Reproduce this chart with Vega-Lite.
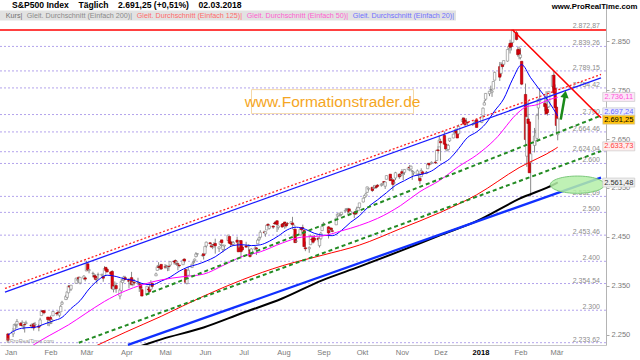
{
"$schema": "https://vega.github.io/schema/vega-lite/v6.json",
"width": 606, "height": 337,
"autosize": {"type": "none"},
"padding": {"left": 0, "top": 8, "right": 34, "bottom": 15},
"background": "white",
"config": {"view": {"stroke": null}, "font": "Liberation Sans"},
"title": {"text": "S&P500 Index\u00a0\u00a0\u00a0\u00a0Täglich\u00a0\u00a0\u00a0\u00a02.691,25 (+0,51%)\u00a0\u00a0\u00a0\u00a002.03.2018", "anchor": "start", "frame": "group", "fontSize": 8.6, "fontWeight": "bold", "font": "Liberation Sans", "color": "#000000", "dx": 12, "offset": -7.5},
"resolve": {"scale": {"color": "independent"}},
"datasets": {
"candles": [
{"d":"2016-12-30","o":2251.6,"h":2253.6,"l":2233.6,"c":2238.8},
{"d":"2017-01-03","o":2251.6,"h":2263.9,"l":2245.1,"c":2257.8},
{"d":"2017-01-04","o":2261.6,"h":2272.8,"l":2261.6,"c":2270.8},
{"d":"2017-01-05","o":2268.2,"h":2271.5,"l":2260.5,"c":2269.0},
{"d":"2017-01-06","o":2271.1,"h":2282.1,"l":2264.1,"c":2277.0},
{"d":"2017-01-09","o":2273.6,"h":2275.5,"l":2268.8,"c":2268.9},
{"d":"2017-01-10","o":2269.0,"h":2279.3,"l":2265.3,"c":2268.9},
{"d":"2017-01-11","o":2268.6,"h":2275.3,"l":2260.8,"c":2275.3},
{"d":"2017-01-12","o":2271.1,"h":2271.8,"l":2254.3,"c":2270.4},
{"d":"2017-01-13","o":2272.7,"h":2278.7,"l":2271.5,"c":2274.6},
{"d":"2017-01-17","o":2269.1,"h":2272.1,"l":2262.8,"c":2267.9},
{"d":"2017-01-18","o":2269.1,"h":2272.0,"l":2263.4,"c":2271.9},
{"d":"2017-01-19","o":2271.9,"h":2274.3,"l":2258.4,"c":2263.7},
{"d":"2017-01-20","o":2269.9,"h":2276.1,"l":2265.0,"c":2271.3},
{"d":"2017-01-23","o":2267.8,"h":2271.8,"l":2257.0,"c":2265.2},
{"d":"2017-01-24","o":2267.9,"h":2284.6,"l":2266.7,"c":2280.1},
{"d":"2017-01-25","o":2288.9,"h":2299.6,"l":2288.9,"c":2298.4},
{"d":"2017-01-26","o":2298.6,"h":2300.4,"l":2294.1,"c":2296.7},
{"d":"2017-01-27","o":2299.0,"h":2299.0,"l":2291.6,"c":2294.7},
{"d":"2017-01-30","o":2286.0,"h":2286.0,"l":2268.0,"c":2280.9},
{"d":"2017-01-31","o":2274.0,"h":2279.1,"l":2267.2,"c":2278.9},
{"d":"2017-02-01","o":2285.6,"h":2289.1,"l":2271.6,"c":2279.6},
{"d":"2017-02-02","o":2276.7,"h":2283.0,"l":2271.7,"c":2280.9},
{"d":"2017-02-03","o":2288.5,"h":2298.3,"l":2288.5,"c":2297.4},
{"d":"2017-02-06","o":2294.3,"h":2296.2,"l":2288.6,"c":2292.6},
{"d":"2017-02-07","o":2295.9,"h":2299.4,"l":2290.2,"c":2293.1},
{"d":"2017-02-08","o":2289.6,"h":2295.9,"l":2285.4,"c":2294.7},
{"d":"2017-02-09","o":2296.7,"h":2311.1,"l":2296.6,"c":2307.9},
{"d":"2017-02-10","o":2312.3,"h":2319.2,"l":2311.1,"c":2316.1},
{"d":"2017-02-13","o":2321.7,"h":2331.6,"l":2321.4,"c":2328.3},
{"d":"2017-02-14","o":2326.1,"h":2337.6,"l":2322.2,"c":2337.6},
{"d":"2017-02-15","o":2335.6,"h":2351.3,"l":2334.8,"c":2349.3},
{"d":"2017-02-16","o":2349.6,"h":2351.3,"l":2338.9,"c":2347.2},
{"d":"2017-02-17","o":2343.0,"h":2351.2,"l":2339.6,"c":2351.2},
{"d":"2017-02-21","o":2354.9,"h":2366.7,"l":2354.9,"c":2365.4},
{"d":"2017-02-22","o":2361.1,"h":2365.1,"l":2358.3,"c":2362.8},
{"d":"2017-02-23","o":2367.5,"h":2368.3,"l":2355.1,"c":2363.8},
{"d":"2017-02-24","o":2355.7,"h":2367.3,"l":2352.9,"c":2367.3},
{"d":"2017-02-27","o":2365.2,"h":2371.5,"l":2361.9,"c":2369.8},
{"d":"2017-02-28","o":2366.1,"h":2367.8,"l":2358.9,"c":2363.6},
{"d":"2017-03-01","o":2380.1,"h":2401.0,"l":2380.1,"c":2396.0},
{"d":"2017-03-02","o":2394.8,"h":2394.8,"l":2380.2,"c":2381.9},
{"d":"2017-03-03","o":2380.9,"h":2383.9,"l":2375.4,"c":2383.1},
{"d":"2017-03-06","o":2375.2,"h":2378.8,"l":2367.0,"c":2375.3},
{"d":"2017-03-07","o":2370.7,"h":2375.1,"l":2365.5,"c":2368.4},
{"d":"2017-03-08","o":2369.8,"h":2373.1,"l":2361.0,"c":2363.0},
{"d":"2017-03-09","o":2363.5,"h":2369.1,"l":2354.5,"c":2364.9},
{"d":"2017-03-10","o":2372.5,"h":2376.9,"l":2364.0,"c":2372.6},
{"d":"2017-03-13","o":2371.6,"h":2374.4,"l":2368.5,"c":2373.5},
{"d":"2017-03-14","o":2368.6,"h":2368.6,"l":2358.2,"c":2365.5},
{"d":"2017-03-15","o":2370.3,"h":2390.0,"l":2368.9,"c":2385.3},
{"d":"2017-03-16","o":2387.7,"h":2388.1,"l":2377.2,"c":2381.4},
{"d":"2017-03-17","o":2383.7,"h":2385.7,"l":2377.6,"c":2378.3},
{"d":"2017-03-20","o":2378.2,"h":2379.0,"l":2369.7,"c":2373.5},
{"d":"2017-03-21","o":2379.3,"h":2381.9,"l":2341.9,"c":2344.0},
{"d":"2017-03-22","o":2343.0,"h":2351.8,"l":2336.5,"c":2348.5},
{"d":"2017-03-23","o":2345.1,"h":2358.9,"l":2342.1,"c":2346.0},
{"d":"2017-03-24","o":2350.4,"h":2356.2,"l":2335.7,"c":2344.0},
{"d":"2017-03-27","o":2329.1,"h":2344.9,"l":2322.3,"c":2341.6},
{"d":"2017-03-28","o":2339.8,"h":2363.8,"l":2337.6,"c":2358.6},
{"d":"2017-03-29","o":2356.5,"h":2363.4,"l":2353.0,"c":2361.1},
{"d":"2017-03-30","o":2361.3,"h":2370.4,"l":2358.6,"c":2368.1},
{"d":"2017-03-31","o":2366.6,"h":2370.3,"l":2362.6,"c":2362.7},
{"d":"2017-04-03","o":2362.3,"h":2365.9,"l":2344.7,"c":2358.8},
{"d":"2017-04-04","o":2354.8,"h":2360.5,"l":2350.7,"c":2360.2},
{"d":"2017-04-05","o":2366.6,"h":2378.4,"l":2350.5,"c":2353.0},
{"d":"2017-04-06","o":2353.8,"h":2364.2,"l":2348.9,"c":2357.5},
{"d":"2017-04-07","o":2356.6,"h":2363.8,"l":2350.7,"c":2355.5},
{"d":"2017-04-10","o":2357.2,"h":2366.4,"l":2351.5,"c":2357.2},
{"d":"2017-04-11","o":2353.9,"h":2355.2,"l":2337.3,"c":2353.8},
{"d":"2017-04-12","o":2352.2,"h":2352.7,"l":2341.2,"c":2344.9},
{"d":"2017-04-13","o":2342.0,"h":2348.3,"l":2328.9,"c":2329.0},
{"d":"2017-04-17","o":2332.6,"h":2349.1,"l":2332.5,"c":2349.0},
{"d":"2017-04-18","o":2342.5,"h":2348.4,"l":2334.5,"c":2342.2},
{"d":"2017-04-19","o":2346.8,"h":2352.6,"l":2335.1,"c":2338.2},
{"d":"2017-04-20","o":2342.7,"h":2361.4,"l":2340.9,"c":2355.8},
{"d":"2017-04-21","o":2354.7,"h":2356.2,"l":2344.5,"c":2348.7},
{"d":"2017-04-24","o":2370.3,"h":2376.9,"l":2370.3,"c":2374.2},
{"d":"2017-04-25","o":2381.5,"h":2392.5,"l":2381.2,"c":2388.6},
{"d":"2017-04-26","o":2388.4,"h":2398.2,"l":2386.8,"c":2387.5},
{"d":"2017-04-27","o":2389.7,"h":2392.1,"l":2382.7,"c":2388.8},
{"d":"2017-04-28","o":2393.7,"h":2393.7,"l":2382.4,"c":2384.2},
{"d":"2017-05-01","o":2388.5,"h":2394.5,"l":2384.8,"c":2388.3},
{"d":"2017-05-02","o":2391.1,"h":2392.9,"l":2385.8,"c":2391.2},
{"d":"2017-05-03","o":2386.5,"h":2389.8,"l":2379.8,"c":2388.1},
{"d":"2017-05-04","o":2389.8,"h":2391.4,"l":2380.4,"c":2389.5},
{"d":"2017-05-05","o":2392.4,"h":2399.3,"l":2389.4,"c":2399.3},
{"d":"2017-05-08","o":2399.9,"h":2401.4,"l":2393.6,"c":2399.4},
{"d":"2017-05-09","o":2401.6,"h":2403.9,"l":2392.4,"c":2396.9},
{"d":"2017-05-10","o":2396.8,"h":2399.7,"l":2390.9,"c":2399.6},
{"d":"2017-05-11","o":2394.8,"h":2395.7,"l":2381.7,"c":2394.4},
{"d":"2017-05-12","o":2392.4,"h":2392.4,"l":2387.2,"c":2390.9},
{"d":"2017-05-15","o":2393.0,"h":2404.1,"l":2393.0,"c":2402.3},
{"d":"2017-05-16","o":2404.6,"h":2405.8,"l":2396.1,"c":2400.7},
{"d":"2017-05-17","o":2383.0,"h":2384.9,"l":2356.2,"c":2357.0},
{"d":"2017-05-18","o":2354.7,"h":2375.7,"l":2352.7,"c":2365.7},
{"d":"2017-05-19","o":2371.4,"h":2389.1,"l":2370.4,"c":2381.7},
{"d":"2017-05-22","o":2387.2,"h":2395.5,"l":2386.9,"c":2394.0},
{"d":"2017-05-23","o":2397.0,"h":2400.9,"l":2393.9,"c":2398.4},
{"d":"2017-05-24","o":2401.4,"h":2405.6,"l":2397.9,"c":2404.4},
{"d":"2017-05-25","o":2409.5,"h":2418.7,"l":2408.0,"c":2415.1},
{"d":"2017-05-26","o":2414.5,"h":2416.0,"l":2410.0,"c":2415.8},
{"d":"2017-05-30","o":2411.7,"h":2415.3,"l":2409.4,"c":2412.9},
{"d":"2017-05-31","o":2415.6,"h":2415.8,"l":2403.6,"c":2411.8},
{"d":"2017-06-01","o":2415.6,"h":2430.1,"l":2413.5,"c":2430.1},
{"d":"2017-06-02","o":2431.3,"h":2440.2,"l":2427.7,"c":2439.1},
{"d":"2017-06-05","o":2437.8,"h":2439.5,"l":2434.3,"c":2436.1},
{"d":"2017-06-06","o":2431.9,"h":2436.2,"l":2428.1,"c":2429.3},
{"d":"2017-06-07","o":2432.0,"h":2435.3,"l":2424.8,"c":2433.1},
{"d":"2017-06-08","o":2434.3,"h":2439.3,"l":2427.4,"c":2433.8},
{"d":"2017-06-09","o":2436.4,"h":2446.2,"l":2415.7,"c":2431.8},
{"d":"2017-06-12","o":2425.9,"h":2430.4,"l":2419.0,"c":2429.4},
{"d":"2017-06-13","o":2434.2,"h":2441.5,"l":2431.3,"c":2440.4},
{"d":"2017-06-14","o":2443.8,"h":2443.8,"l":2428.3,"c":2437.9},
{"d":"2017-06-15","o":2424.1,"h":2433.9,"l":2418.5,"c":2432.5},
{"d":"2017-06-16","o":2431.2,"h":2433.2,"l":2422.9,"c":2433.2},
{"d":"2017-06-19","o":2442.5,"h":2453.8,"l":2441.8,"c":2453.5},
{"d":"2017-06-20","o":2450.7,"h":2450.7,"l":2436.6,"c":2437.0},
{"d":"2017-06-21","o":2439.3,"h":2442.2,"l":2430.7,"c":2435.6},
{"d":"2017-06-22","o":2437.4,"h":2441.6,"l":2433.3,"c":2434.5},
{"d":"2017-06-23","o":2434.7,"h":2441.4,"l":2431.1,"c":2438.3},
{"d":"2017-06-26","o":2443.3,"h":2450.4,"l":2437.0,"c":2439.1},
{"d":"2017-06-27","o":2436.3,"h":2441.0,"l":2419.4,"c":2419.4},
{"d":"2017-06-28","o":2428.7,"h":2443.1,"l":2428.7,"c":2440.7},
{"d":"2017-06-29","o":2442.4,"h":2442.7,"l":2405.7,"c":2419.7},
{"d":"2017-06-30","o":2429.2,"h":2432.7,"l":2421.6,"c":2423.4},
{"d":"2017-07-03","o":2431.4,"h":2439.9,"l":2428.2,"c":2429.0},
{"d":"2017-07-05","o":2430.8,"h":2434.9,"l":2422.1,"c":2432.5},
{"d":"2017-07-06","o":2423.4,"h":2424.3,"l":2407.7,"c":2409.8},
{"d":"2017-07-07","o":2413.5,"h":2426.9,"l":2413.5,"c":2425.2},
{"d":"2017-07-10","o":2424.5,"h":2432.0,"l":2422.3,"c":2427.4},
{"d":"2017-07-11","o":2427.4,"h":2429.3,"l":2412.8,"c":2425.5},
{"d":"2017-07-12","o":2435.8,"h":2445.8,"l":2435.6,"c":2443.3},
{"d":"2017-07-13","o":2444.0,"h":2449.3,"l":2441.7,"c":2447.8},
{"d":"2017-07-14","o":2449.2,"h":2463.5,"l":2446.7,"c":2459.3},
{"d":"2017-07-17","o":2459.5,"h":2462.8,"l":2457.2,"c":2459.1},
{"d":"2017-07-18","o":2455.9,"h":2460.9,"l":2450.3,"c":2460.6},
{"d":"2017-07-19","o":2463.9,"h":2473.8,"l":2463.9,"c":2473.8},
{"d":"2017-07-20","o":2475.6,"h":2477.6,"l":2468.4,"c":2473.5},
{"d":"2017-07-21","o":2467.4,"h":2472.5,"l":2465.1,"c":2472.5},
{"d":"2017-07-24","o":2472.0,"h":2473.1,"l":2466.3,"c":2469.9},
{"d":"2017-07-25","o":2477.9,"h":2481.2,"l":2474.9,"c":2477.1},
{"d":"2017-07-26","o":2479.9,"h":2481.7,"l":2474.9,"c":2477.8},
{"d":"2017-07-27","o":2482.8,"h":2484.0,"l":2459.9,"c":2475.4},
{"d":"2017-07-28","o":2469.1,"h":2473.5,"l":2464.7,"c":2472.1},
{"d":"2017-07-31","o":2475.9,"h":2477.9,"l":2468.5,"c":2470.3},
{"d":"2017-08-01","o":2477.1,"h":2478.5,"l":2471.1,"c":2476.4},
{"d":"2017-08-02","o":2480.4,"h":2480.4,"l":2466.5,"c":2477.6},
{"d":"2017-08-03","o":2476.0,"h":2476.0,"l":2468.9,"c":2472.2},
{"d":"2017-08-04","o":2476.9,"h":2480.4,"l":2472.1,"c":2476.8},
{"d":"2017-08-07","o":2477.1,"h":2480.9,"l":2475.9,"c":2480.9},
{"d":"2017-08-08","o":2478.4,"h":2490.9,"l":2470.3,"c":2474.9},
{"d":"2017-08-09","o":2465.4,"h":2474.9,"l":2463.9,"c":2474.0},
{"d":"2017-08-10","o":2465.4,"h":2465.4,"l":2437.8,"c":2438.2},
{"d":"2017-08-11","o":2441.0,"h":2448.1,"l":2437.9,"c":2441.3},
{"d":"2017-08-14","o":2454.0,"h":2467.2,"l":2454.0,"c":2465.8},
{"d":"2017-08-15","o":2468.7,"h":2468.7,"l":2461.4,"c":2464.6},
{"d":"2017-08-16","o":2468.6,"h":2474.9,"l":2463.9,"c":2468.1},
{"d":"2017-08-17","o":2462.9,"h":2465.0,"l":2430.0,"c":2430.0},
{"d":"2017-08-18","o":2427.6,"h":2440.3,"l":2420.7,"c":2425.6},
{"d":"2017-08-21","o":2425.5,"h":2430.6,"l":2417.4,"c":2428.4},
{"d":"2017-08-22","o":2433.8,"h":2454.8,"l":2433.7,"c":2452.5},
{"d":"2017-08-23","o":2444.9,"h":2448.9,"l":2441.4,"c":2444.0},
{"d":"2017-08-24","o":2447.9,"h":2450.4,"l":2436.2,"c":2439.0},
{"d":"2017-08-25","o":2447.2,"h":2453.7,"l":2442.2,"c":2443.1},
{"d":"2017-08-28","o":2447.4,"h":2449.1,"l":2439.0,"c":2444.2},
{"d":"2017-08-29","o":2431.9,"h":2449.2,"l":2428.2,"c":2446.3},
{"d":"2017-08-30","o":2446.1,"h":2460.3,"l":2443.8,"c":2457.6},
{"d":"2017-08-31","o":2462.7,"h":2475.0,"l":2462.7,"c":2471.7},
{"d":"2017-09-01","o":2474.4,"h":2480.4,"l":2473.9,"c":2476.6},
{"d":"2017-09-05","o":2470.4,"h":2471.9,"l":2446.6,"c":2457.9},
{"d":"2017-09-06","o":2463.8,"h":2469.6,"l":2459.2,"c":2465.5},
{"d":"2017-09-07","o":2468.1,"h":2468.6,"l":2460.3,"c":2465.1},
{"d":"2017-09-08","o":2462.3,"h":2467.1,"l":2459.4,"c":2461.4},
{"d":"2017-09-11","o":2474.5,"h":2488.9,"l":2474.5,"c":2488.1},
{"d":"2017-09-12","o":2491.9,"h":2496.8,"l":2488.0,"c":2496.5},
{"d":"2017-09-13","o":2493.9,"h":2498.4,"l":2492.1,"c":2498.4},
{"d":"2017-09-14","o":2494.6,"h":2498.4,"l":2491.4,"c":2495.6},
{"d":"2017-09-15","o":2495.7,"h":2500.2,"l":2493.2,"c":2500.2},
{"d":"2017-09-18","o":2502.5,"h":2508.3,"l":2499.9,"c":2503.9},
{"d":"2017-09-19","o":2506.3,"h":2507.8,"l":2503.2,"c":2506.7},
{"d":"2017-09-20","o":2506.8,"h":2508.9,"l":2496.7,"c":2508.2},
{"d":"2017-09-21","o":2507.2,"h":2507.2,"l":2499.0,"c":2500.6},
{"d":"2017-09-22","o":2497.3,"h":2503.5,"l":2496.5,"c":2502.2},
{"d":"2017-09-25","o":2499.4,"h":2502.5,"l":2488.0,"c":2496.7},
{"d":"2017-09-26","o":2501.0,"h":2503.5,"l":2495.1,"c":2496.8},
{"d":"2017-09-27","o":2503.3,"h":2511.8,"l":2495.9,"c":2507.0},
{"d":"2017-09-28","o":2503.4,"h":2510.8,"l":2502.9,"c":2510.1},
{"d":"2017-09-29","o":2509.9,"h":2519.4,"l":2507.8,"c":2519.4},
{"d":"2017-10-02","o":2521.2,"h":2529.2,"l":2520.4,"c":2529.1},
{"d":"2017-10-03","o":2530.3,"h":2535.1,"l":2528.9,"c":2534.6},
{"d":"2017-10-04","o":2533.5,"h":2540.5,"l":2531.8,"c":2537.7},
{"d":"2017-10-05","o":2540.9,"h":2552.5,"l":2540.0,"c":2552.1},
{"d":"2017-10-06","o":2547.4,"h":2549.4,"l":2543.8,"c":2549.3},
{"d":"2017-10-09","o":2551.4,"h":2551.8,"l":2541.6,"c":2544.7},
{"d":"2017-10-10","o":2549.0,"h":2555.2,"l":2544.9,"c":2550.6},
{"d":"2017-10-11","o":2550.6,"h":2555.2,"l":2547.9,"c":2555.2},
{"d":"2017-10-12","o":2552.9,"h":2555.3,"l":2548.3,"c":2550.9},
{"d":"2017-10-13","o":2555.7,"h":2557.7,"l":2552.0,"c":2553.2},
{"d":"2017-10-16","o":2555.6,"h":2559.5,"l":2552.6,"c":2557.6},
{"d":"2017-10-17","o":2557.2,"h":2559.7,"l":2554.7,"c":2559.4},
{"d":"2017-10-18","o":2562.9,"h":2564.1,"l":2559.2,"c":2561.3},
{"d":"2017-10-19","o":2553.4,"h":2562.4,"l":2547.9,"c":2562.1},
{"d":"2017-10-20","o":2567.6,"h":2575.4,"l":2567.6,"c":2575.2},
{"d":"2017-10-23","o":2578.1,"h":2578.3,"l":2564.3,"c":2565.0},
{"d":"2017-10-24","o":2568.7,"h":2572.2,"l":2565.6,"c":2569.1},
{"d":"2017-10-25","o":2566.5,"h":2567.4,"l":2544.0,"c":2557.2},
{"d":"2017-10-26","o":2560.1,"h":2567.1,"l":2559.5,"c":2560.4},
{"d":"2017-10-27","o":2570.3,"h":2582.9,"l":2565.9,"c":2581.1},
{"d":"2017-10-30","o":2577.8,"h":2580.0,"l":2568.6,"c":2572.8},
{"d":"2017-10-31","o":2575.0,"h":2578.3,"l":2572.2,"c":2575.3},
{"d":"2017-11-01","o":2583.2,"h":2588.4,"l":2574.9,"c":2579.4},
{"d":"2017-11-02","o":2579.5,"h":2581.1,"l":2566.2,"c":2579.9},
{"d":"2017-11-03","o":2581.9,"h":2588.4,"l":2576.8,"c":2587.8},
{"d":"2017-11-06","o":2587.5,"h":2593.4,"l":2585.7,"c":2591.1},
{"d":"2017-11-07","o":2592.1,"h":2597.0,"l":2584.1,"c":2590.6},
{"d":"2017-11-08","o":2588.7,"h":2595.5,"l":2585.0,"c":2594.4},
{"d":"2017-11-09","o":2584.0,"h":2586.5,"l":2566.3,"c":2584.6},
{"d":"2017-11-10","o":2580.2,"h":2583.8,"l":2575.6,"c":2582.3},
{"d":"2017-11-13","o":2576.5,"h":2587.7,"l":2574.5,"c":2584.8},
{"d":"2017-11-14","o":2577.8,"h":2579.7,"l":2566.6,"c":2578.9},
{"d":"2017-11-15","o":2569.4,"h":2572.8,"l":2557.5,"c":2564.6},
{"d":"2017-11-16","o":2572.9,"h":2590.1,"l":2572.9,"c":2585.6},
{"d":"2017-11-17","o":2582.9,"h":2583.9,"l":2576.9,"c":2578.9},
{"d":"2017-11-20","o":2579.5,"h":2584.6,"l":2578.2,"c":2582.1},
{"d":"2017-11-21","o":2589.2,"h":2601.2,"l":2589.2,"c":2599.0},
{"d":"2017-11-22","o":2600.3,"h":2600.9,"l":2593.9,"c":2597.1},
{"d":"2017-11-24","o":2600.4,"h":2604.2,"l":2598.1,"c":2602.4},
{"d":"2017-11-27","o":2602.7,"h":2606.4,"l":2598.9,"c":2601.4},
{"d":"2017-11-28","o":2605.9,"h":2627.7,"l":2605.4,"c":2627.0},
{"d":"2017-11-29","o":2627.8,"h":2634.9,"l":2620.3,"c":2626.1},
{"d":"2017-11-30","o":2633.9,"h":2657.7,"l":2633.9,"c":2647.6},
{"d":"2017-12-01","o":2645.1,"h":2650.6,"l":2605.5,"c":2642.2},
{"d":"2017-12-04","o":2657.2,"h":2665.2,"l":2639.0,"c":2639.4},
{"d":"2017-12-05","o":2639.8,"h":2648.7,"l":2627.7,"c":2629.6},
{"d":"2017-12-06","o":2626.2,"h":2634.4,"l":2624.8,"c":2629.3},
{"d":"2017-12-07","o":2628.4,"h":2640.0,"l":2627.0,"c":2637.0},
{"d":"2017-12-08","o":2646.2,"h":2651.7,"l":2644.1,"c":2651.5},
{"d":"2017-12-11","o":2652.2,"h":2660.3,"l":2651.5,"c":2660.0},
{"d":"2017-12-12","o":2661.7,"h":2669.7,"l":2659.8,"c":2664.1},
{"d":"2017-12-13","o":2667.6,"h":2671.9,"l":2662.9,"c":2662.9},
{"d":"2017-12-14","o":2665.9,"h":2668.1,"l":2652.0,"c":2652.0},
{"d":"2017-12-15","o":2660.6,"h":2679.6,"l":2659.1,"c":2675.8},
{"d":"2017-12-18","o":2685.9,"h":2694.0,"l":2685.9,"c":2690.2},
{"d":"2017-12-19","o":2692.7,"h":2694.4,"l":2680.7,"c":2681.5},
{"d":"2017-12-20","o":2688.2,"h":2691.0,"l":2676.1,"c":2679.3},
{"d":"2017-12-21","o":2683.0,"h":2692.6,"l":2682.4,"c":2684.6},
{"d":"2017-12-22","o":2684.2,"h":2685.4,"l":2678.1,"c":2683.3},
{"d":"2017-12-26","o":2679.1,"h":2682.7,"l":2677.0,"c":2680.5},
{"d":"2017-12-27","o":2682.1,"h":2685.6,"l":2678.9,"c":2682.6},
{"d":"2017-12-28","o":2686.1,"h":2687.7,"l":2682.7,"c":2687.5},
{"d":"2017-12-29","o":2689.2,"h":2692.1,"l":2673.6,"c":2673.6},
{"d":"2018-01-02","o":2683.7,"h":2695.9,"l":2682.4,"c":2695.8},
{"d":"2018-01-03","o":2697.9,"h":2714.4,"l":2697.8,"c":2713.1},
{"d":"2018-01-04","o":2719.3,"h":2729.3,"l":2719.1,"c":2724.0},
{"d":"2018-01-05","o":2731.3,"h":2743.5,"l":2727.9,"c":2743.2},
{"d":"2018-01-08","o":2742.7,"h":2748.5,"l":2737.6,"c":2747.7},
{"d":"2018-01-09","o":2751.2,"h":2759.1,"l":2747.9,"c":2751.3},
{"d":"2018-01-10","o":2745.6,"h":2750.8,"l":2736.1,"c":2748.2},
{"d":"2018-01-11","o":2752.0,"h":2767.6,"l":2752.0,"c":2767.6},
{"d":"2018-01-12","o":2770.2,"h":2787.9,"l":2769.6,"c":2786.2},
{"d":"2018-01-16","o":2798.0,"h":2807.5,"l":2768.6,"c":2776.4},
{"d":"2018-01-17","o":2784.0,"h":2807.0,"l":2778.4,"c":2802.6},
{"d":"2018-01-18","o":2802.4,"h":2805.8,"l":2792.6,"c":2798.0},
{"d":"2018-01-19","o":2802.6,"h":2810.3,"l":2798.1,"c":2810.3},
{"d":"2018-01-22","o":2809.2,"h":2833.0,"l":2808.1,"c":2833.0},
{"d":"2018-01-23","o":2835.1,"h":2842.2,"l":2830.6,"c":2839.1},
{"d":"2018-01-24","o":2845.4,"h":2852.9,"l":2824.8,"c":2837.5},
{"d":"2018-01-25","o":2846.2,"h":2848.6,"l":2830.9,"c":2839.3},
{"d":"2018-01-26","o":2847.5,"h":2872.9,"l":2846.2,"c":2872.9},
{"d":"2018-01-29","o":2867.2,"h":2870.6,"l":2851.5,"c":2853.5},
{"d":"2018-01-30","o":2832.7,"h":2837.8,"l":2818.3,"c":2822.4},
{"d":"2018-01-31","o":2832.4,"h":2839.3,"l":2813.0,"c":2823.8},
{"d":"2018-02-01","o":2816.5,"h":2836.0,"l":2812.7,"c":2822.0},
{"d":"2018-02-02","o":2808.9,"h":2808.9,"l":2760.0,"c":2762.1},
{"d":"2018-02-05","o":2741.1,"h":2763.4,"l":2638.2,"c":2648.9},
{"d":"2018-02-06","o":2614.8,"h":2701.0,"l":2593.1,"c":2695.1},
{"d":"2018-02-07","o":2691.0,"h":2727.7,"l":2681.3,"c":2681.7},
{"d":"2018-02-08","o":2685.0,"h":2685.3,"l":2580.6,"c":2581.0},
{"d":"2018-02-09","o":2601.8,"h":2638.7,"l":2532.7,"c":2619.6},
{"d":"2018-02-12","o":2636.8,"h":2672.6,"l":2622.5,"c":2656.0},
{"d":"2018-02-13","o":2646.3,"h":2668.8,"l":2637.1,"c":2662.9},
{"d":"2018-02-14","o":2651.2,"h":2702.1,"l":2648.9,"c":2698.6},
{"d":"2018-02-15","o":2713.5,"h":2731.5,"l":2689.8,"c":2731.2},
{"d":"2018-02-16","o":2727.1,"h":2754.4,"l":2725.1,"c":2732.2},
{"d":"2018-02-20","o":2723.0,"h":2737.6,"l":2706.8,"c":2716.3},
{"d":"2018-02-21","o":2720.5,"h":2747.8,"l":2701.3,"c":2701.3},
{"d":"2018-02-22","o":2710.4,"h":2731.3,"l":2697.8,"c":2704.0},
{"d":"2018-02-23","o":2715.8,"h":2747.8,"l":2713.7,"c":2747.3},
{"d":"2018-02-26","o":2757.4,"h":2780.6,"l":2753.8,"c":2779.6},
{"d":"2018-02-27","o":2780.5,"h":2789.2,"l":2742.2,"c":2744.3},
{"d":"2018-02-28","o":2753.8,"h":2761.5,"l":2713.5,"c":2713.8},
{"d":"2018-03-01","o":2715.2,"h":2730.9,"l":2659.7,"c":2677.7},
{"d":"2018-03-02","o":2658.9,"h":2696.3,"l":2647.3,"c":2691.3}
],
"ma": [
{"k":"20","d":"2016-12-30","v":2249.3},{"k":"20","d":"2017-01-06","v":2260.5},{"k":"20","d":"2017-01-13","v":2264.1},{"k":"20","d":"2017-01-20","v":2265.2},{"k":"20","d":"2017-01-27","v":2271.5},{"k":"20","d":"2017-02-03","v":2278.1},{"k":"20","d":"2017-02-10","v":2285.3},{"k":"20","d":"2017-02-17","v":2303.5},{"k":"20","d":"2017-02-24","v":2319.5},{"k":"20","d":"2017-03-03","v":2343.4},{"k":"20","d":"2017-03-10","v":2361.4},{"k":"20","d":"2017-03-17","v":2371.6},{"k":"20","d":"2017-03-24","v":2368.9},{"k":"20","d":"2017-03-31","v":2363.8},{"k":"20","d":"2017-04-07","v":2360.8},{"k":"20","d":"2017-04-13","v":2354.8},{"k":"20","d":"2017-04-21","v":2352.0},{"k":"20","d":"2017-04-28","v":2359.5},{"k":"20","d":"2017-05-05","v":2367.7},{"k":"20","d":"2017-05-12","v":2379.7},{"k":"20","d":"2017-05-19","v":2388.4},{"k":"20","d":"2017-05-26","v":2393.6},{"k":"20","d":"2017-06-02","v":2400.5},{"k":"20","d":"2017-06-09","v":2409.2},{"k":"20","d":"2017-06-16","v":2422.0},{"k":"20","d":"2017-06-23","v":2432.3},{"k":"20","d":"2017-06-30","v":2433.9},{"k":"20","d":"2017-07-07","v":2432.1},{"k":"20","d":"2017-07-14","v":2433.7},{"k":"20","d":"2017-07-21","v":2441.0},{"k":"20","d":"2017-07-28","v":2451.8},{"k":"20","d":"2017-08-04","v":2464.4},{"k":"20","d":"2017-08-11","v":2469.7},{"k":"20","d":"2017-08-18","v":2465.5},{"k":"20","d":"2017-08-25","v":2457.2},{"k":"20","d":"2017-09-01","v":2453.3},{"k":"20","d":"2017-09-08","v":2452.4},{"k":"20","d":"2017-09-15","v":2462.9},{"k":"20","d":"2017-09-22","v":2479.5},{"k":"20","d":"2017-09-29","v":2492.8},{"k":"20","d":"2017-10-06","v":2511.7},{"k":"20","d":"2017-10-13","v":2525.5},{"k":"20","d":"2017-10-20","v":2540.2},{"k":"20","d":"2017-10-27","v":2555.3},{"k":"20","d":"2017-11-03","v":2564.9},{"k":"20","d":"2017-11-10","v":2574.3},{"k":"20","d":"2017-11-17","v":2578.2},{"k":"20","d":"2017-11-24","v":2584.6},{"k":"20","d":"2017-12-01","v":2597.4},{"k":"20","d":"2017-12-08","v":2609.3},{"k":"20","d":"2017-12-15","v":2630.3},{"k":"20","d":"2017-12-22","v":2653.2},{"k":"20","d":"2017-12-29","v":2664.3},{"k":"20","d":"2018-01-05","v":2681.1},{"k":"20","d":"2018-01-12","v":2707.4},{"k":"20","d":"2018-01-19","v":2731.8},{"k":"20","d":"2018-01-26","v":2772.4},{"k":"20","d":"2018-02-02","v":2801.9},{"k":"20","d":"2018-02-09","v":2775.3},{"k":"20","d":"2018-02-16","v":2750.6},{"k":"20","d":"2018-02-23","v":2726.6},{"k":"20","d":"2018-03-02","v":2697.2},
{"k":"50","d":"2017-01-06","v":2205.0},{"k":"50","d":"2017-01-20","v":2231.0},{"k":"50","d":"2017-01-31","v":2248.0},{"k":"50","d":"2017-02-15","v":2270.0},{"k":"50","d":"2017-02-28","v":2292.6},{"k":"50","d":"2017-03-15","v":2318.0},{"k":"50","d":"2017-03-31","v":2339.3},{"k":"50","d":"2017-04-13","v":2351.9},{"k":"50","d":"2017-04-28","v":2362.0},{"k":"50","d":"2017-05-15","v":2368.6},{"k":"50","d":"2017-05-31","v":2373.8},{"k":"50","d":"2017-06-15","v":2391.4},{"k":"50","d":"2017-06-30","v":2410.0},{"k":"50","d":"2017-07-14","v":2419.4},{"k":"50","d":"2017-07-31","v":2437.3},{"k":"50","d":"2017-08-15","v":2449.3},{"k":"50","d":"2017-08-31","v":2451.8},{"k":"50","d":"2017-09-15","v":2462.2},{"k":"50","d":"2017-09-29","v":2473.3},{"k":"50","d":"2017-10-13","v":2487.6},{"k":"50","d":"2017-10-31","v":2514.0},{"k":"50","d":"2017-11-15","v":2542.4},{"k":"50","d":"2017-11-30","v":2564.8},{"k":"50","d":"2017-12-15","v":2593.7},{"k":"50","d":"2017-12-29","v":2617.1},{"k":"50","d":"2018-01-12","v":2648.3},{"k":"50","d":"2018-01-31","v":2705.7},{"k":"50","d":"2018-02-05","v":2715.2},{"k":"50","d":"2018-02-14","v":2720.2},{"k":"50","d":"2018-02-23","v":2730.1},{"k":"50","d":"2018-03-02","v":2735.4},
{"k":"125","d":"2017-02-28","v":2216.7},{"k":"125","d":"2017-03-31","v":2254.8},{"k":"125","d":"2017-04-28","v":2287.5},{"k":"125","d":"2017-05-31","v":2328.8},{"k":"125","d":"2017-06-30","v":2362.2},{"k":"125","d":"2017-07-31","v":2390.8},{"k":"125","d":"2017-08-31","v":2412.3},{"k":"125","d":"2017-09-29","v":2433.1},{"k":"125","d":"2017-10-31","v":2466.8},{"k":"125","d":"2017-11-30","v":2499.0},{"k":"125","d":"2017-12-29","v":2535.9},{"k":"125","d":"2018-01-31","v":2591.4},{"k":"125","d":"2018-02-28","v":2629.7},{"k":"125","d":"2018-03-02","v":2633.2},
{"k":"200","d":"2017-03-31","v":2215.5},{"k":"200","d":"2017-04-28","v":2240.4},{"k":"200","d":"2017-05-31","v":2264.8},{"k":"200","d":"2017-06-30","v":2294.2},{"k":"200","d":"2017-07-31","v":2323.9},{"k":"200","d":"2017-08-31","v":2361.1},{"k":"200","d":"2017-09-29","v":2389.0},{"k":"200","d":"2017-10-31","v":2421.2},{"k":"200","d":"2017-11-30","v":2452.6},{"k":"200","d":"2017-12-29","v":2482.0},{"k":"200","d":"2018-01-31","v":2527.5},{"k":"200","d":"2018-02-28","v":2558.3},{"k":"200","d":"2018-03-02","v":2561.1}
],
"levels": [
{"v":2839.26,"t":"2.839,26"},{"v":2789.15,"t":"2.789,15"},{"v":2754.42,"t":"2.754,42"},{"v":2700,"t":"2.700"},{"v":2664.46,"t":"2.664,46"},{"v":2624.04,"t":"2.624,04"},{"v":2600,"t":"2.600"},{"v":2532.69,"t":"2.532,69"},{"v":2500,"t":"2.500"},{"v":2453.46,"t":"2.453,46"},{"v":2400,"t":"2.400"},{"v":2354.54,"t":"2.354,54"},{"v":2300,"t":"2.300"},{"v":2233.62,"t":"2.233,62"}
],
"peak": [{"v":2872.87,"t":"2.872,87"}],
"tl": [
{"k":"ch","d1":"2016-12-27T17:00:00Z","v1":2337,"d2":"2018-04-04T15:00:00Z","v2":2775},
{"k":"chr","d1":"2016-12-27T17:00:00Z","v1":2344.5,"d2":"2018-04-04T15:00:00Z","v2":2782},
{"k":"sup","d1":"2017-04-02T05:00:00Z","v1":2229,"d2":"2018-04-04T15:00:00Z","v2":2571},
{"k":"g","d1":"2017-04-16T00:00:00Z","v1":2331.7,"d2":"2018-04-04T15:00:00Z","v2":2697.8},
{"k":"g","d1":"2017-02-23T00:00:00Z","v1":2233.6,"d2":"2018-04-04T15:00:00Z","v2":2625.2},
{"k":"res","d1":"2018-01-26T00:00:00Z","v1":2872.87,"d2":"2018-04-04T15:00:00Z","v2":2693.4}
],
"ell": [{"d":"2018-03-17T06:00:00Z","v":2556.6}],
"arrow": [{"d1":"2018-03-04T08:00:00Z","v1":2689.6,"d2":"2018-03-07T10:00:00Z","v2":2736.0}],
"arrowhead": [{"d":"2018-03-07T18:00:00Z","v":2741.5}],
"wm": [{"d":"2017-09-08T02:00:00Z","v":2726.4,"t":"www.Formationstrader.de"}],
"boxes": [
{"k":"m50","v":2736.0,"t":"2.736,11"},
{"k":"m20","v":2704.5,"t":"2.697,24"},
{"k":"kurs","v":2689.6,"t":"2.691,25"},
{"k":"m125","v":2635.0,"t":"2.633,73"},
{"k":"m200","v":2561.0,"t":"2.561,48"}
]
},
"layer": [
{
"data": {"name": "levels"},
"mark": {"type": "rule", "color": "#b3a4ec", "strokeWidth": 1, "strokeDash": [2, 2]},
"encoding": {
"y": {"field": "v", "type": "quantitative",
"scale": {"domain": [2228.9, 2917.8], "nice": false, "zero": false},
"axis": {"orient": "right", "values": [2250,2300,2350,2400,2450,2500,2550,2600,2650,2700,2750,2800,2850,2900],
"labelExpr": "replace(format(datum.value, ','), ',', '.')",
"labelFontSize": 7.5, "labelFont": "Liberation Sans",
"labelColor": {"condition": {"test": "datum.value == 2500", "value": "#000000"}, "value": "#7a7a7a"},
"tickSize": 3, "tickColor": "#aaaaaa", "domainColor": "#b4b4b4", "labelPadding": 2, "grid": false,
"labelOverlap": false, "labelFlush": false,
"title": "www.ProRealTime.com", "titleAngle": 0, "titleAlign": "right", "titleBaseline": "alphabetic",
"titleX": 31, "titleY": 0, "titleFontSize": 7.8, "titleFontWeight": "bold", "titleFont": "Liberation Sans", "titleColor": "#000000"}}
}
},
{
"data": {"name": "levels"},
"mark": {"type": "text", "align": "right", "baseline": "bottom", "fontSize": 7, "color": "#8c8c8c", "font": "Liberation Sans"},
"encoding": {
"x": {"datum": {"year": 2018, "month": 4, "date": 3, "hours": 20, "utc": true}, "type": "temporal"},
"y": {"field": "v", "type": "quantitative"},
"text": {"field": "t"}
}
},
{
"data": {"name": "candles"},
"mark": {"type": "rule", "color": "#8a8a8a", "strokeWidth": 1},
"encoding": {
"x": {"field": "d", "type": "temporal",
"scale": {"type": "utc", "domain": [{"year": 2016, "month": 12, "date": 27, "hours": 17, "utc": true}, {"year": 2018, "month": 4, "date": 4, "hours": 15, "utc": true}]},
"axis": {"title": null, "grid": false, "ticks": false, "domainColor": "#c8c8c8",
"values": [{"year":2017,"month":1,"date":1,"utc":true},{"year":2017,"month":2,"date":1,"utc":true},{"year":2017,"month":3,"date":1,"utc":true},{"year":2017,"month":4,"date":1,"utc":true},{"year":2017,"month":5,"date":1,"utc":true},{"year":2017,"month":6,"date":1,"utc":true},{"year":2017,"month":7,"date":1,"utc":true},{"year":2017,"month":8,"date":1,"utc":true},{"year":2017,"month":9,"date":1,"utc":true},{"year":2017,"month":10,"date":1,"utc":true},{"year":2017,"month":11,"date":1,"utc":true},{"year":2017,"month":12,"date":1,"utc":true},{"year":2018,"month":1,"date":1,"utc":true},{"year":2018,"month":2,"date":1,"utc":true},{"year":2018,"month":3,"date":1,"utc":true}],
"labelExpr": "utcmonth(datum.value) == 0 && utcyear(datum.value) == 2018 ? '2018' : ['Jan','Feb','Mär','Apr','Mai','Jun','Jul','Aug','Sep','Okt','Nov','Dez'][utcmonth(datum.value)]",
"labelColor": {"condition": {"test": "utcmonth(datum.value) == 0 && utcyear(datum.value) == 2018", "value": "#000000"}, "value": "#7a7a7a"},
"labelFontWeight": {"condition": {"test": "utcmonth(datum.value) == 0 && utcyear(datum.value) == 2018", "value": "bold"}, "value": "normal"},
"labelFontSize": 7.5, "labelFont": "Liberation Sans", "labelPadding": 3, "labelFlush": false, "labelOverlap": false}},
"y": {"field": "l", "type": "quantitative"},
"y2": {"field": "h"}
}
},
{
"data": {"name": "candles"},
"mark": {"type": "bar", "size": 2.4, "strokeWidth": 0.6},
"encoding": {
"x": {"field": "d", "type": "temporal"},
"y": {"field": "o", "type": "quantitative"},
"y2": {"field": "c"},
"fill": {"condition": {"test": "datum.c < datum.o", "value": "#e00010"}, "value": "#ffffff"},
"stroke": {"condition": {"test": "datum.c < datum.o", "value": "#a00000"}, "value": "#808080"}
}
},
{
"data": {"name": "ma"},
"mark": {"type": "line", "interpolate": "monotone", "clip": true},
"encoding": {
"x": {"field": "d", "type": "temporal"},
"y": {"field": "v", "type": "quantitative"},
"detail": {"field": "k"},
"color": {"field": "k", "type": "nominal",
"scale": {"domain": ["Kurs", "200", "125", "50", "20"], "range": ["#888888", "#000000", "#ff0000", "#ff00ff", "#0000ff"]},
"legend": {"orient": "none", "legendX": 0, "legendY": 2.5, "direction": "horizontal", "columns": 5, "title": null,
"symbolSize": 0, "symbolStrokeWidth": 0, "symbolOpacity": 0, "labelOffset": -3, "columnPadding": 0,
"labelFontSize": 7.2, "labelFont": "Liberation Sans", "labelLimit": 400, "fillColor": "#e2e2e2", "padding": 1.5,
"labelExpr": "datum.value == 'Kurs' ? 'Kurs|' : 'Gleit. Durchschnitt (Einfach ' + datum.value + ')|'",
"encode": {"labels": {"update": {"fill": {"signal": "datum.value == 'Kurs' ? '#707070' : datum.value == '200' ? '#8a8a8a' : datum.value == '125' ? '#ff6a6a' : datum.value == '50' ? '#ff5fd0' : '#7070ff'"}}}}}},
"strokeWidth": {"field": "k", "type": "nominal", "scale": {"type": "ordinal", "domain": ["Kurs", "200", "125", "50", "20"], "range": [1, 2, 1, 1, 1]}, "legend": null}
}
},
{
"data": {"name": "peak"},
"mark": {"type": "rule", "color": "#ff0000", "strokeWidth": 1.3},
"encoding": {"y": {"field": "v", "type": "quantitative"}}
},
{
"data": {"name": "peak"},
"mark": {"type": "text", "align": "right", "baseline": "bottom", "fontSize": 7, "color": "#8c8c8c", "font": "Liberation Sans", "dy": -1},
"encoding": {
"x": {"datum": {"year": 2018, "month": 4, "date": 3, "hours": 20, "utc": true}, "type": "temporal"},
"y": {"field": "v", "type": "quantitative"},
"text": {"field": "t"}
}
},
{
"data": {"name": "tl"},
"transform": [{"filter": "datum.k == 'ch'"}],
"mark": {"type": "rule", "color": "#1a1aff", "strokeWidth": 1.3},
"encoding": {"x": {"field": "d1", "type": "temporal"}, "x2": {"field": "d2"}, "y": {"field": "v1", "type": "quantitative"}, "y2": {"field": "v2"}}
},
{
"data": {"name": "tl"},
"transform": [{"filter": "datum.k == 'chr'"}],
"mark": {"type": "rule", "color": "#ff2020", "strokeWidth": 1.3, "strokeDash": [2, 2]},
"encoding": {"x": {"field": "d1", "type": "temporal"}, "x2": {"field": "d2"}, "y": {"field": "v1", "type": "quantitative"}, "y2": {"field": "v2"}}
},
{
"data": {"name": "tl"},
"transform": [{"filter": "datum.k == 'sup'"}],
"mark": {"type": "rule", "color": "#1030ff", "strokeWidth": 2.3},
"encoding": {"x": {"field": "d1", "type": "temporal"}, "x2": {"field": "d2"}, "y": {"field": "v1", "type": "quantitative"}, "y2": {"field": "v2"}}
},
{
"data": {"name": "tl"},
"transform": [{"filter": "datum.k == 'g'"}],
"mark": {"type": "rule", "color": "#238b23", "strokeWidth": 2, "strokeDash": [4, 3]},
"encoding": {"x": {"field": "d1", "type": "temporal"}, "x2": {"field": "d2"}, "y": {"field": "v1", "type": "quantitative"}, "y2": {"field": "v2"}}
},
{
"data": {"name": "tl"},
"transform": [{"filter": "datum.k == 'res'"}],
"mark": {"type": "rule", "color": "#ff0000", "strokeWidth": 1.6},
"encoding": {"x": {"field": "d1", "type": "temporal"}, "x2": {"field": "d2"}, "y": {"field": "v1", "type": "quantitative"}, "y2": {"field": "v2"}}
},
{
"data": {"name": "ell"},
"mark": {"type": "point", "shape": "M -1 0 A 1 0.32 0 1 0 1 0 A 1 0.32 0 1 0 -1 0 Z", "size": 2916, "filled": true, "fill": "#b4eea8", "fillOpacity": 0.85, "stroke": "#7cc87c", "strokeWidth": 1},
"encoding": {"x": {"field": "d", "type": "temporal"}, "y": {"field": "v", "type": "quantitative"}}
},
{
"data": {"name": "arrow"},
"mark": {"type": "rule", "color": "#1a8a1a", "strokeWidth": 2.5},
"encoding": {"x": {"field": "d1", "type": "temporal"}, "x2": {"field": "d2"}, "y": {"field": "v1", "type": "quantitative"}, "y2": {"field": "v2"}}
},
{
"data": {"name": "arrowhead"},
"mark": {"type": "point", "shape": "triangle-up", "size": 70, "filled": true, "color": "#1a8a1a", "angle": 10, "opacity": 1},
"encoding": {"x": {"field": "d", "type": "temporal"}, "y": {"field": "v", "type": "quantitative"}}
},
{
"data": {"name": "wm"},
"mark": {"type": "tick", "orient": "horizontal", "size": 162, "thickness": 24, "color": "#ffffff", "stroke": "#f5d8a6", "strokeWidth": 1, "opacity": 1},
"encoding": {"x": {"field": "d", "type": "temporal"}, "y": {"field": "v", "type": "quantitative"}}
},
{
"data": {"name": "wm"},
"mark": {"type": "text", "fontSize": 15.5, "font": "Liberation Sans", "color": "#f5a623", "align": "center", "baseline": "middle"},
"encoding": {"x": {"field": "d", "type": "temporal"}, "y": {"field": "v", "type": "quantitative"}, "text": {"field": "t"}}
},
{
"data": {"values": [{"t": "©ProRealTime.com"}]},
"mark": {"type": "text", "fontSize": 5.5, "font": "Liberation Sans", "color": "#9a9a9a", "align": "left", "baseline": "middle"},
"encoding": {"x": {"datum": {"year": 2016, "month": 12, "date": 28, "hours": 12, "utc": true}, "type": "temporal"}, "y": {"datum": 2236.5, "type": "quantitative"}, "text": {"field": "t"}}
},
{
"data": {"name": "boxes"},
"mark": {"type": "tick", "orient": "horizontal", "size": 32, "thickness": 9, "stroke": "#c4c4c4", "strokeWidth": 0.6, "opacity": 1},
"encoding": {
"x": {"datum": {"year": 2018, "month": 4, "date": 18, "hours": 10, "utc": true}, "type": "temporal"},
"y": {"field": "v", "type": "quantitative"},
"fill": {"field": "k", "type": "nominal", "scale": {"domain": ["m50", "m20", "kurs", "m125", "m200"], "range": ["#fce6f8", "#ececff", "#ffc20e", "#ffecec", "#eeeeee"]}, "legend": null}
}
},
{
"data": {"name": "boxes"},
"mark": {"type": "text", "fontSize": 7.5, "font": "Liberation Sans", "align": "center", "baseline": "middle"},
"encoding": {
"x": {"datum": {"year": 2018, "month": 4, "date": 18, "hours": 10, "utc": true}, "type": "temporal"},
"y": {"field": "v", "type": "quantitative"},
"text": {"field": "t"},
"color": {"field": "k", "type": "nominal", "scale": {"domain": ["m50", "m20", "kurs", "m125", "m200"], "range": ["#ff55d8", "#6a6aff", "#000000", "#ff4040", "#303030"]}, "legend": null}
}
}
]
}
